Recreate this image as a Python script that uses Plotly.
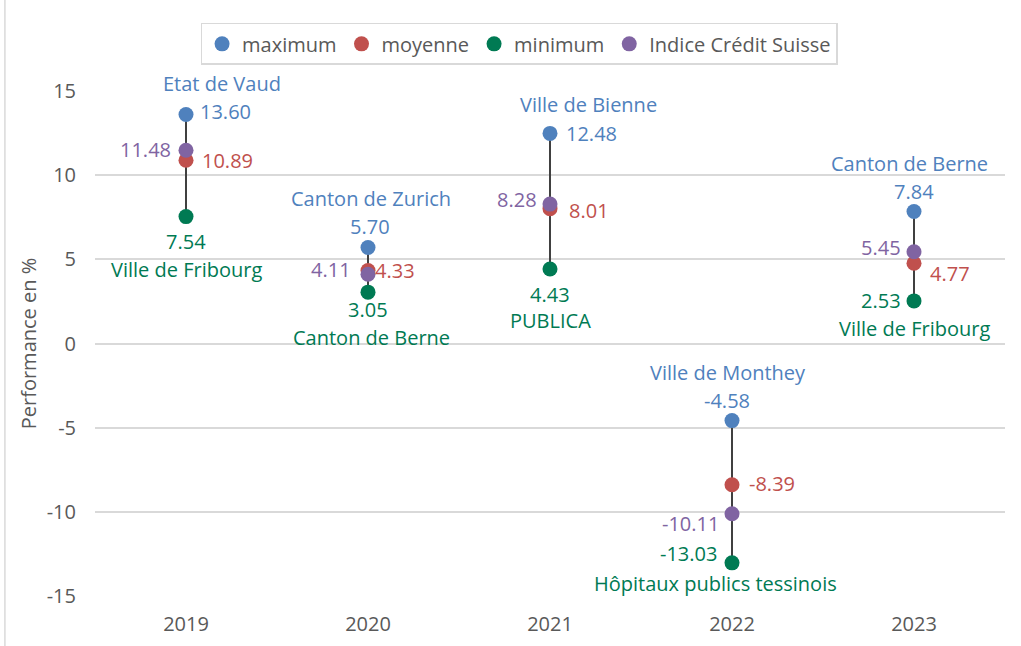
import plotly.graph_objects as go

years = ["2019", "2020", "2021", "2022", "2023"]
maximum = [13.60, 5.70, 12.48, -4.58, 7.84]
moyenne = [10.89, 4.33, 8.01, -8.39, 4.77]
minimum = [7.54, 3.05, 4.43, -13.03, 2.53]
indice = [11.48, 4.11, 8.28, -10.11, 5.45]
max_names = ["Etat de Vaud", "Canton de Zurich", "Ville de Bienne",
             "Ville de Monthey", "Canton de Berne"]
min_names = ["Ville de Fribourg", "Canton de Berne", "PUBLICA",
             "Hôpitaux publics tessinois", "Ville de Fribourg"]
y_ticks = [-15, -10, -5, 0, 5, 10, 15]

BLUE = "#4F81BD"
RED = "#C0504D"
GREEN = "#007A53"
PURPLE = "#8064A2"
GREY = "#595959"
FONT = "Open Sans"

fig = go.Figure()

# vertical connectors min -> max
lx, ly = [], []
for yr, lo, hi in zip(years, minimum, maximum):
    lx += [yr, yr, None]
    ly += [lo, hi, None]
fig.add_trace(go.Scatter(x=lx, y=ly, mode="lines",
                         line=dict(color="#404040", width=2),
                         showlegend=False, hoverinfo="skip"))

series = [("maximum", maximum, BLUE), ("moyenne", moyenne, RED),
          ("minimum", minimum, GREEN), ("Indice Crédit Suisse", indice, PURPLE)]
for name, vals, col in series:
    fig.add_trace(go.Scatter(x=years, y=vals, mode="markers", name=name,
                             marker=dict(color=col, size=15), cliponaxis=False))

# label placement: (xanchor, xshift, yshift) per year
place = {
    "max": [("left", 12, 3), ("center", 2, 21), ("left", 14, 0), ("center", -5, 20), ("center", 0, 20)],
    "moy": [("left", 14, 0), ("left", 5, 0), ("left", 17, -2), ("left", 15, 1), ("left", 14, -10)],
    "min": [("center", 0, -25), ("center", 0, -17), ("center", 0, -26), ("right", -13, 9), ("right", -11, 0)],
    "ind": [("right", -13, 1), ("right", -15, 5), ("right", -11, 5), ("right", -11, -10), ("right", -11, 4)],
    "maxname": [("center", 36, 31), ("center", 3, 49), ("center", 38, 29), ("center", -4, 48), ("center", -5, 48)],
    "minname": [("center", 0, -53), ("center", 3, -45), ("center", 0, -52), ("center", -17, -21), ("center", 0, -28)],
}


def add_labels(key, vals, texts, col):
    # category axis: annotations take the category index, not the "2019" string
    for i, (v, t, (xa, dx, dy)) in enumerate(zip(vals, texts, place[key])):
        fig.add_annotation(x=i, y=v, xref="x", yref="y", text=t, showarrow=False,
                           xanchor=xa, yanchor="middle", xshift=dx, yshift=dy,
                           font=dict(family=FONT, size=20, color=col))


add_labels("max", maximum, [f"{v:.2f}" for v in maximum], BLUE)
add_labels("moy", moyenne, [f"{v:.2f}" for v in moyenne], RED)
add_labels("min", minimum, [f"{v:.2f}" for v in minimum], GREEN)
add_labels("ind", indice, [f"{v:.2f}" for v in indice], PURPLE)
add_labels("maxname", maximum, max_names, BLUE)
add_labels("minname", minimum, min_names, GREEN)

fig.update_layout(
    width=1021, height=646,
    margin=dict(l=95, r=16, t=91, b=50, autoexpand=False),
    paper_bgcolor="white", plot_bgcolor="white",
    font=dict(family=FONT, size=20, color=GREY),
    showlegend=True,
    legend=dict(orientation="h", x=0.466, xanchor="center", y=1.135, yanchor="top",
                bordercolor="#D9D9D9", borderwidth=1.5,
                font=dict(family=FONT, size=20, color=GREY),
                itemwidth=30),
    shapes=[dict(type="line", xref="paper", yref="paper",
                 x0=-0.099, x1=-0.099, y0=-0.1, y1=1.19,
                 line=dict(color="#D9D9D9", width=1.5))],
)
fig.update_xaxes(type="category", range=[-0.5, 4.5], showgrid=False,
                 showline=False, zeroline=False, ticks="",
                 ticklabelstandoff=14, tickfont=dict(size=20, color=GREY))
fig.update_yaxes(range=[-15, 15], tickvals=y_ticks, ticktext=[str(v) for v in y_ticks],
                 showgrid=True, gridcolor="#D9D9D9",
                 gridwidth=1.5, zeroline=False, showline=False,
                 ticklabelstandoff=18, tickfont=dict(size=20, color=GREY),
                 title=dict(text="Performance en %", standoff=4,
                            font=dict(size=20, color=GREY)))

fig.write_html("out.html", post_script="document.body.style.margin='0';",
               config={"displayModeBar": False})
